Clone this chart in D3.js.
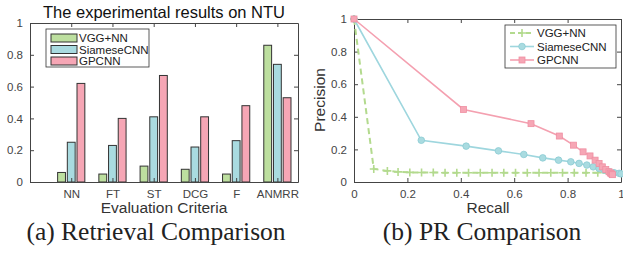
<!DOCTYPE html>
<html>
<head>
<meta charset="utf-8">
<script src="https://cdn.jsdelivr.net/npm/d3@7"></script>
<style>
  body { margin: 0; background: #fff; }
  svg { display: block; }
  .tick text { font-family: "Liberation Sans", Arial, sans-serif; font-size: 11.5px; fill: #444; }
  .domain, .tick line { stroke: #444; }
  .lbl { font-family: "Liberation Sans", Arial, sans-serif; fill: #333; }
  .cap { font-family: "Liberation Serif", "Times New Roman", serif; font-size: 25.5px; fill: #222; }
</style>
</head>
<body>
<svg id="fig" width="623" height="254"></svg>
<script>
// ---- data: (a) retrieval comparison ----
var criteria = ["NN", "FT", "ST", "DCG", "F", "ANMRR"];
var methods = ["VGG+NN", "SiameseCNN", "GPCNN"];
var vggScores = [0.06, 0.05, 0.10, 0.08, 0.05, 0.86];
var siameseScores = [0.25, 0.23, 0.41, 0.22, 0.26, 0.74];
var gpcnnScores = [0.62, 0.40, 0.67, 0.41, 0.48, 0.53];
var scoreTicks = [0, 0.2, 0.4, 0.6, 0.8, 1];

// ---- data: (b) precision / recall ----
var vggRecall = [0, 0.074, 0.125, 0.165, 0.209, 0.253, 0.297, 0.341, 0.385, 0.429, 0.473, 0.517, 0.561, 0.605, 0.649, 0.693, 0.737, 0.781, 0.825, 0.869, 0.913, 0.957];
var vggPrecision = [1, 0.08, 0.068, 0.062, 0.059, 0.058, 0.058, 0.057, 0.057, 0.057, 0.057, 0.057, 0.057, 0.057, 0.057, 0.057, 0.057, 0.057, 0.057, 0.057, 0.057, 0.057];
var siameseRecall = [0, 0.252, 0.42, 0.541, 0.636, 0.707, 0.766, 0.812, 0.843, 0.872, 0.896, 0.918, 0.937, 0.955, 0.974, 0.993, 1.0];
var siamesePrecision = [1, 0.256, 0.22, 0.191, 0.169, 0.148, 0.134, 0.124, 0.114, 0.104, 0.093, 0.083, 0.073, 0.063, 0.057, 0.053, 0.05];
var gpcnnRecall = [0, 0.41, 0.663, 0.769, 0.822, 0.858, 0.884, 0.903, 0.918, 0.93, 0.943, 0.955, 0.96, 0.965, 0.968];
var gpcnnPrecision = [1, 0.445, 0.358, 0.282, 0.226, 0.185, 0.16, 0.134, 0.114, 0.093, 0.077, 0.063, 0.055, 0.05, 0.045];
var prTicks = [0, 0.2, 0.4, 0.6, 0.8, 1];

var colors = { fill: ["#bddf9f", "#a9dbe0", "#f6a6b5"], line: ["#b3da8e", "#9ed6de", "#f4a0b0"] };

var svg = d3.select("#fig");

// helper: boxed axes with ticks pointing inward
function boxAxes(g, x, y, xTicks, xFmt, yTicks) {
	var x0 = x.range()[0], x1 = x.range()[1], y0 = y.range()[0], y1 = y.range()[1];
	g.append("g").attr("transform", "translate(0," + y0 + ")")
		.call(d3.axisBottom(x).tickValues(xTicks).tickFormat(xFmt).tickSizeInner(-4).tickSizeOuter(0).tickPadding(8));
	g.append("g").attr("transform", "translate(0," + y1 + ")")
		.call(d3.axisTop(x).tickValues(xTicks).tickFormat("").tickSizeInner(-4).tickSizeOuter(0));
	g.append("g").attr("transform", "translate(" + x0 + ",0)")
		.call(d3.axisLeft(y).tickValues(yTicks).tickFormat(function(d) { return String(d); }).tickSizeInner(-4).tickSizeOuter(0).tickPadding(7));
	g.append("g").attr("transform", "translate(" + x1 + ",0)")
		.call(d3.axisRight(y).tickValues(yTicks).tickFormat("").tickSizeInner(-4).tickSizeOuter(0));
}

// ================= (a) bar chart =================
var xa = d3.scaleLinear().domain([0, 6.5]).range([30, 298]);
var ya = d3.scaleLinear().domain([0, 1]).range([182, 23]);
var ga = svg.append("g");

var series = [vggScores, siameseScores, gpcnnScores];
var barW = 0.19, offs = [-0.235, 0, 0.235];
series.forEach(function(vals, s) {
	ga.append("g").selectAll("rect")
		.data(vals)
		.enter()
		.append("rect")
		.attr("x", function(d, i) { return xa(i + 1 + offs[s] - barW / 2); })
		.attr("width", xa(barW) - xa(0))
		.attr("y", function(d) { return ya(d); })
		.attr("height", function(d) { return ya(0) - ya(d); })
		.attr("fill", colors.fill[s])
		.attr("stroke", "#333")
		.attr("stroke-width", 1);
});

boxAxes(ga, xa, ya, [1, 2, 3, 4, 5, 6], function(d) { return criteria[d - 1]; }, scoreTicks);

ga.append("text").attr("class", "lbl")
	.attr("x", 164).attr("y", 18).attr("text-anchor", "middle")
	.style("font-size", "16.5px").style("fill", "#111")
	.text("The experimental results on NTU");
ga.append("text").attr("class", "lbl")
	.attr("x", 164).attr("y", 213).attr("text-anchor", "middle")
	.style("font-size", "15.5px")
	.text("Evaluation Criteria");

// legend (a)
var lga = ga.append("g").attr("transform", "translate(46,29)");
lga.append("rect").attr("width", 103).attr("height", 38).attr("fill", "#fff").attr("stroke", "#333").attr("stroke-width", 0.8);
methods.forEach(function(m, s) {
	lga.append("rect").attr("x", 5).attr("y", 5 + s * 11.5).attr("width", 26).attr("height", 8)
		.attr("fill", colors.fill[s]).attr("stroke", "#333").attr("stroke-width", 1);
	lga.append("text").attr("class", "lbl").attr("x", 33).attr("y", 13 + s * 11.5)
		.style("font-size", "11.5px").style("fill", "#222").text(m);
});

svg.append("text").attr("class", "cap").attr("x", 156).attr("y", 240).attr("text-anchor", "middle").text("(a) Retrieval Comparison");

// ================= (b) PR curves =================
var xb = d3.scaleLinear().domain([0, 1]).range([354, 621]);
var yb = d3.scaleLinear().domain([0, 1]).range([182, 19]);
var gb = svg.append("g");

boxAxes(gb, xb, yb, prTicks, function(d) { return String(d); }, prTicks);

var curves = [
	{ r: vggRecall, p: vggPrecision, dash: "6,4", width: 2, marker: "plus" },
	{ r: siameseRecall, p: siamesePrecision, dash: null, width: 1.6, marker: "circle" },
	{ r: gpcnnRecall, p: gpcnnPrecision, dash: null, width: 1.6, marker: "square" }
];

function drawMarker(g, type, s) {
	if (type === "plus") {
		g.append("path").attr("d", "M-4,0H4M0,-4V4").attr("stroke", colors.line[s]).attr("stroke-width", 1.6).attr("fill", "none");
	} else if (type === "circle") {
		g.append("circle").attr("r", 3.3).attr("fill", colors.fill[s]).attr("stroke", "#8ccbd3").attr("stroke-width", 0.8);
	} else {
		g.append("rect").attr("x", -3).attr("y", -3).attr("width", 6).attr("height", 6).attr("fill", colors.fill[s]).attr("stroke", "#ef8fa2").attr("stroke-width", 0.8);
	}
}

curves.forEach(function(c, s) {
	var pts = c.r.map(function(r, i) { return [r, c.p[i]]; });
	var line = d3.line().x(function(d) { return xb(d[0]); }).y(function(d) { return yb(d[1]); });
	gb.append("path").datum(pts).attr("d", line)
		.attr("fill", "none").attr("stroke", colors.line[s]).attr("stroke-width", c.width)
		.attr("stroke-dasharray", c.dash);
	pts.forEach(function(d) {
		drawMarker(gb.append("g").attr("transform", "translate(" + xb(d[0]) + "," + yb(d[1]) + ")"), c.marker, s);
	});
});

gb.append("text").attr("class", "lbl")
	.attr("x", 488).attr("y", 213).attr("text-anchor", "middle")
	.style("font-size", "15.5px").text("Recall");
gb.append("text").attr("class", "lbl")
	.attr("transform", "translate(325,100) rotate(-90)").attr("text-anchor", "middle")
	.style("font-size", "15.5px").text("Precision");

// legend (b)
var lgb = gb.append("g").attr("transform", "translate(505,25)");
lgb.append("rect").attr("width", 111).attr("height", 43).attr("fill", "#fff").attr("stroke", "#333").attr("stroke-width", 0.8);
curves.forEach(function(c, s) {
	var yy = 8 + s * 13.5;
	lgb.append("line").attr("x1", 5).attr("x2", 29).attr("y1", yy).attr("y2", yy)
		.attr("stroke", colors.line[s]).attr("stroke-width", c.width).attr("stroke-dasharray", c.dash ? "5,3" : null);
	drawMarker(lgb.append("g").attr("transform", "translate(17," + yy + ")"), c.marker, s);
	lgb.append("text").attr("class", "lbl").attr("x", 32).attr("y", yy + 4)
		.style("font-size", "11.5px").style("fill", "#222").text(methods[s]);
});

svg.append("text").attr("class", "cap").attr("x", 482).attr("y", 240).attr("text-anchor", "middle").text("(b) PR Comparison");
</script>
</body>
</html>
